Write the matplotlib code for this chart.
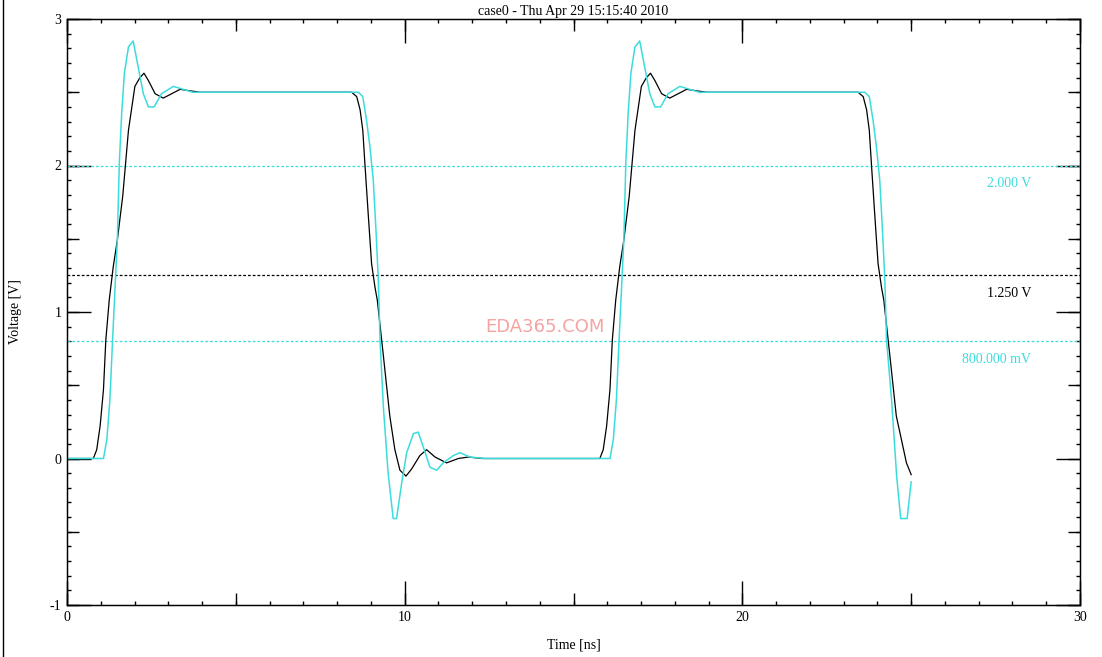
#!/usr/bin/env python3
# waveform plot: two traces with threshold lines
import numpy as np
import matplotlib
matplotlib.use("Agg")
import matplotlib.pyplot as plt
from matplotlib.ticker import MultipleLocator, FuncFormatter, NullFormatter
from matplotlib.lines import Line2D

plt.rcParams.update({
  "font.family": ["Liberation Serif", "DejaVu Serif"],
  "font.size": 10,
  "axes.unicode_minus": False,
})

# --- Data ---
black_t = [0.0, 0.78, 0.88, 0.98, 1.08, 1.15, 1.25, 1.37, 1.49, 1.65, 1.82, 2.01, 2.16, 2.28,
           2.41, 2.61, 2.85, 3.10, 3.35, 3.64, 3.94, 8.43, 8.58, 8.68, 8.76, 8.82, 8.92,
           9.02, 9.12, 9.19, 9.37, 9.56, 9.71, 9.86, 10.04, 10.21, 10.45, 10.65, 10.90,
           11.24, 11.59, 11.88, 12.30, 15.78, 15.88, 15.98, 16.08, 16.15, 16.25, 16.37,
           16.49, 16.65, 16.82, 17.01, 17.16, 17.28, 17.41, 17.61, 17.85, 18.10, 18.35,
           18.64, 18.94, 23.43, 23.58, 23.68, 23.76, 23.82, 23.92, 24.02, 24.12, 24.19,
           24.37, 24.56, 24.72, 24.86, 25.00]
black_v = [0.0, 0.0, 0.06, 0.22, 0.47, 0.81, 1.08, 1.31, 1.49, 1.79, 2.24, 2.54, 2.60, 2.63,
           2.58, 2.49, 2.46, 2.49, 2.52, 2.51, 2.50, 2.50, 2.47, 2.38, 2.24, 2.02, 1.67,
           1.33, 1.17, 1.08, 0.70, 0.29, 0.06, -0.08, -0.12, -0.07, 0.02, 0.06, 0.01,
           -0.03, 0.00, 0.01, 0.0, 0.0, 0.06, 0.22, 0.47, 0.81, 1.08, 1.31,
           1.49, 1.79, 2.24, 2.54, 2.60, 2.63, 2.58, 2.49, 2.46, 2.49, 2.52,
           2.51, 2.50, 2.50, 2.47, 2.38, 2.24, 2.02, 1.67, 1.33, 1.17, 1.08,
           0.70, 0.29, 0.12, -0.03, -0.11]

cyan_t = [0.0, 1.08, 1.18, 1.27, 1.35, 1.42, 1.49, 1.55, 1.62, 1.70, 1.82, 1.96, 2.11, 2.26,
          2.41, 2.58, 2.80, 3.15, 3.44, 3.73, 8.63, 8.76, 8.87, 8.97, 9.07, 9.15, 9.22,
          9.27, 9.37, 9.51, 9.66, 9.76, 9.91, 10.06, 10.26, 10.40, 10.55, 10.75, 10.95,
          11.14, 11.44, 11.64, 11.93, 12.40, 16.08, 16.18, 16.27, 16.35, 16.42, 16.49,
          16.55, 16.62, 16.70, 16.82, 16.96, 17.11, 17.26, 17.41, 17.58, 17.80, 18.15,
          18.44, 18.73, 23.63, 23.76, 23.87, 23.97, 24.07, 24.15, 24.22, 24.27, 24.42,
          24.57, 24.69, 24.88, 25.00]
cyan_v = [0.0, 0.0, 0.13, 0.40, 0.81, 1.15, 1.49, 2.02, 2.36, 2.63, 2.81, 2.85, 2.67, 2.49,
          2.40, 2.40, 2.49, 2.54, 2.52, 2.50, 2.50, 2.47, 2.31, 2.13, 1.90, 1.56, 1.22,
          0.81, 0.35, -0.10, -0.41, -0.41, -0.17, 0.04, 0.17, 0.18, 0.08, -0.06, -0.08,
          -0.03, 0.02, 0.04, 0.01, 0.0, 0.0, 0.13, 0.40, 0.81, 1.15, 1.49,
          2.02, 2.36, 2.63, 2.81, 2.85, 2.67, 2.49, 2.40, 2.40, 2.49, 2.54,
          2.52, 2.50, 2.50, 2.47, 2.31, 2.13, 1.90, 1.56, 1.22, 0.81, 0.40,
          -0.12, -0.41, -0.41, -0.16]

thresholds = [2.0, 1.25, 0.8]
threshold_labels = ["2.000 V", "1.250 V", "800.000 mV"]

CYAN = "#3ddcdc"
thr_colors = [CYAN, "black", CYAN]

title = "case0 - Thu Apr 29 15:15:40 2010"

# --- Figure ---
fig = plt.figure(figsize=(11.02, 6.57), dpi=100)
ax = fig.add_axes([67 / 1102, 1 - 605 / 657, 1013 / 1102, 586 / 657])

for y, c in zip(thresholds, thr_colors):
  ax.axhline(y, color=c, linewidth=0.9, linestyle=(0, (2.2, 1.6)))

ax.plot(black_t, black_v, color="black", linewidth=0.9)
ax.plot(cyan_t, cyan_v, color=CYAN, linewidth=1.1)

for y, lab, c in zip(thresholds, threshold_labels, thr_colors):
  ax.annotate(lab, xy=(28.55, y), xytext=(0, -13), textcoords="offset points",
              ha="right", va="center", color=c, fontsize=10)

ax.text(14.15, 0.90, "EDA365.COM", color="#f5a3a3", fontsize=13,
        family="DejaVu Sans", ha="center", va="center")

# --- Axes & ticks: long at labelled values, medium at halves, short minor ---
ax.set_xlim(0, 30)
ax.set_ylim(-1, 3)
ax.xaxis.set_major_locator(MultipleLocator(10))
ax.xaxis.set_minor_locator(MultipleLocator(1))
ax.yaxis.set_major_locator(MultipleLocator(1))
ax.yaxis.set_minor_locator(MultipleLocator(0.1))
ax.xaxis.set_major_formatter(FuncFormatter(lambda v, p: f"{v:g}"))
ax.yaxis.set_major_formatter(FuncFormatter(lambda v, p: f"{v:g}"))
ax.tick_params(which="both", direction="in", top=True, right=True, width=1.0, labelsize=10)
ax.tick_params(which="major", length=17, pad=4)
ax.tick_params(which="minor", length=3.0)
for s in ax.spines.values():
  s.set_linewidth(1.0)

for loc in ["bottom", "top"]:
  sec = ax.secondary_xaxis(loc)
  sec.xaxis.set_major_locator(MultipleLocator(5))
  sec.xaxis.set_major_formatter(NullFormatter())
  sec.tick_params(direction="in", length=8.6, width=1.0)
for loc in ["left", "right"]:
  sec = ax.secondary_yaxis(loc)
  sec.yaxis.set_major_locator(MultipleLocator(0.5))
  sec.yaxis.set_major_formatter(NullFormatter())
  sec.tick_params(direction="in", length=8.6, width=1.0)

ax.set_title(title, fontsize=10, pad=3)
ax.set_xlabel("Time [ns]", fontsize=10)
ax.set_ylabel("Voltage [V]", fontsize=10)
ax.xaxis.set_label_coords(0.5, -0.058)
ax.yaxis.set_label_coords(-0.044, 0.5)

# window border on the left edge
fig.add_artist(Line2D([3 / 1102, 3 / 1102], [0, 1], color="black", linewidth=1.0))

fig.savefig("out.png", dpi=100)
